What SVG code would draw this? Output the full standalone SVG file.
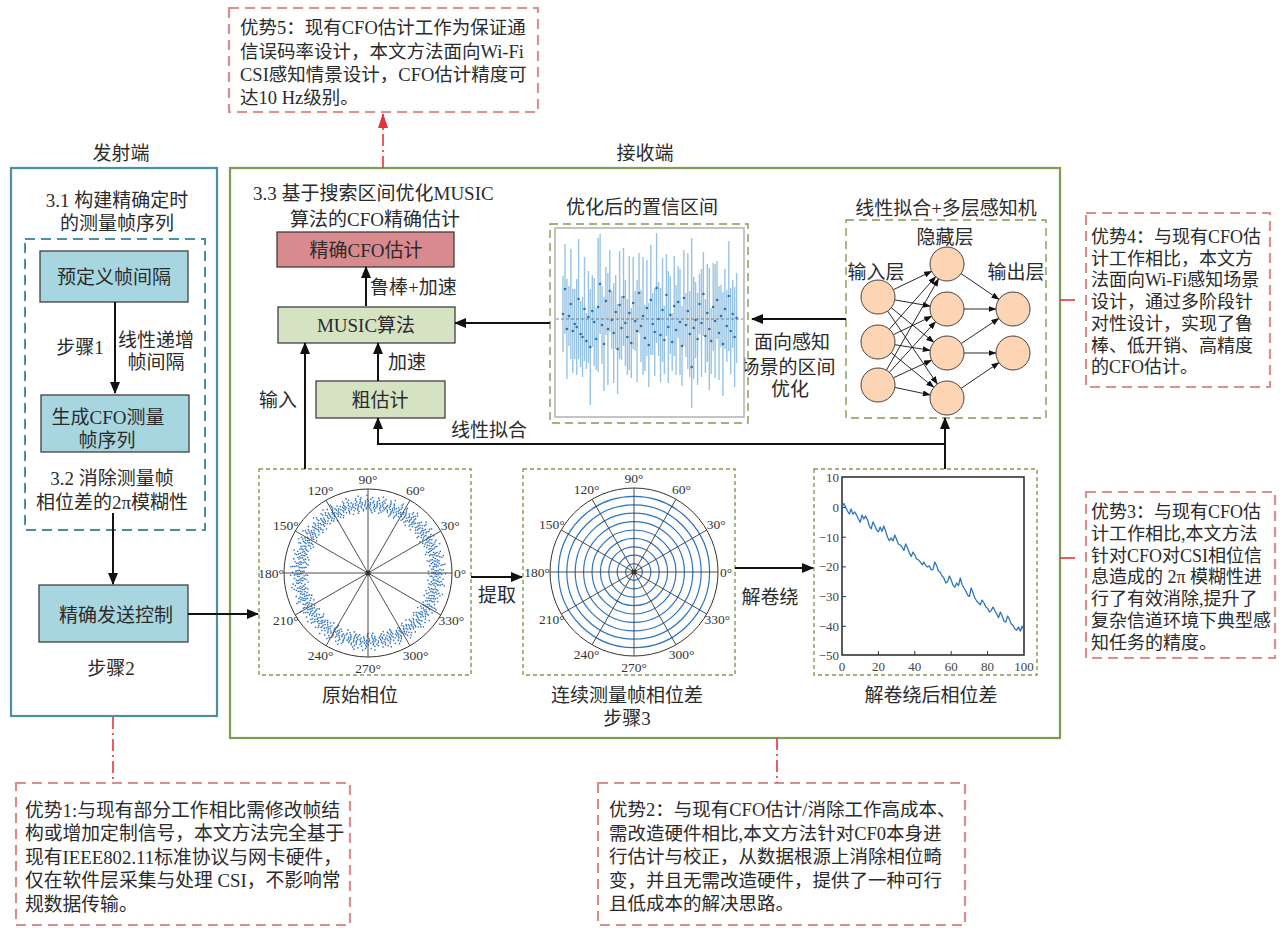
<svg xmlns="http://www.w3.org/2000/svg" width="1284" height="928" viewBox="0 0 1284 928">
<style>
text{font-family:"Liberation Serif","Noto Sans CJK SC",serif;fill:#2b2b2b}
.t19{font-size:19px}
.c{text-anchor:middle;dominant-baseline:central}
.l{dominant-baseline:central}
.a18{font-size:18px;dominant-baseline:central}
.a185{font-size:18.5px;dominant-baseline:central}
.a19{font-size:18.8px;dominant-baseline:central}
.deg{font-size:13.5px;text-anchor:middle;dominant-baseline:central;fill:#333}
.tick{font-size:13px;fill:#444;dominant-baseline:central}
.pink{fill:none;stroke:#d98f90;stroke-width:2.2;stroke-dasharray:10 6}
.red{fill:none;stroke:#e8323a;stroke-width:1.6;stroke-dasharray:12 4 2 4}
.reds{fill:none;stroke:#e8323a;stroke-width:1.6}
.blue{fill:#a7d6e0;stroke:#333;stroke-width:1.2}
.green{fill:#d5e3c3;stroke:#333;stroke-width:1.2}
.rose{fill:#d98a8e;stroke:#333;stroke-width:1.2}
.gdash{fill:none;stroke:#7f9c52;stroke-width:1.4;stroke-dasharray:4 3}
.gdash2{fill:none;stroke:#7f9c52;stroke-width:1.4;stroke-dasharray:8 5}
.conn{fill:none;stroke:#111;stroke-width:2;marker-end:url(#ah)}
.nn{fill:none;stroke:#111;stroke-width:0.9;marker-end:url(#sa)}
.node{fill:#fdd5b4;stroke:#444;stroke-width:1}
</style>
<defs>
<marker id="ah" viewBox="0 0 12 10" refX="11" refY="5" markerWidth="12" markerHeight="10" markerUnits="userSpaceOnUse" orient="auto"><path d="M0,0 L12,5 L0,10 z" fill="#111"/></marker>
<marker id="sa" viewBox="0 0 8 6" refX="7.5" refY="3" markerWidth="8" markerHeight="6" markerUnits="userSpaceOnUse" orient="auto"><path d="M0,0 L8,3 L0,6 z" fill="#111"/></marker>
<marker id="ra" viewBox="0 0 15 10" refX="14" refY="5" markerWidth="15" markerHeight="10" markerUnits="userSpaceOnUse" orient="auto"><path d="M0,0 L15,5 L0,10 z" fill="#e8323a"/></marker>
<g id="pgrid">
<circle r="84" fill="none" stroke="#333" stroke-width="1"/>
<path d="M-84 0H84M0 -84V84M72.75 -42L-72.75 42M42 -72.75L-42 72.75M-42 -72.75L42 72.75M-72.75 -42L72.75 42" stroke="#3a3a3a" stroke-width="0.9" fill="none"/>
<circle r="2.5" fill="#333"/>
</g>
</defs>
<rect width="1284" height="928" fill="#fff"/>

<!-- Transmitter -->
<g id="transmitter">
<text class="t19 c" x="121" y="153">发射端</text>
<rect x="11" y="168" width="206" height="548" fill="none" stroke="#4b8fa3" stroke-width="2.2"/>
<text class="t19 c" x="117" y="200">3.1 构建精确定时</text>
<text class="t19 c" x="117" y="223">的测量帧序列</text>
<rect x="25" y="239" width="180" height="291" fill="none" stroke="#4b8fa3" stroke-width="2" stroke-dasharray="10 6"/>
<text class="t19 c" x="80" y="347">步骤1</text>
<text class="t19 c" x="156" y="340">线性递增</text>
<text class="t19 c" x="156" y="362">帧间隔</text>
<text class="t19 c" x="112" y="478">3.2 消除测量帧</text>
<text class="t19 c" x="112" y="502">相位差的2π模糊性</text>
<text class="t19 c" x="111" y="668">步骤2</text>
</g>
<g id="node-predefine"><rect class="blue" x="40" y="251" width="148" height="51"/><text class="t19 c" x="114" y="277">预定义帧间隔</text></g>
<g id="node-generate"><rect class="blue" x="41" y="395" width="148" height="57"/><text class="t19 c" x="108" y="417">生成CFO测量</text><text class="t19 c" x="107" y="440">帧序列</text></g>
<g id="node-send"><rect class="blue" x="39" y="585" width="149" height="57"/><text class="t19 c" x="116" y="615">精确发送控制</text></g>

<!-- Receiver -->
<g id="receiver">
<text class="t19 c" x="645" y="153">接收端</text>
<rect x="230" y="168" width="830" height="570" fill="none" stroke="#7f9c52" stroke-width="2.2"/>
<text class="t19 l" x="253" y="193">3.3 基于搜索区间优化MUSIC</text>
<text class="t19 l" x="290" y="219">算法的CFO精确估计</text>
<text class="t19 l" x="370" y="287">鲁棒+加速</text>
<text class="t19 l" x="388" y="362">加速</text>
<text class="t19 c" x="278" y="400">输入</text>
<text class="t19 c" x="489" y="430">线性拟合</text>
<text class="t19 c" x="792" y="342">面向感知</text>
<text class="t19 c" x="788" y="367">场景的区间</text>
<text class="t19 c" x="790" y="389">优化</text>
<text class="t19 c" x="497" y="595">提取</text>
<text class="t19 c" x="770" y="597">解卷绕</text>
</g>
<g id="node-cfo"><rect class="rose" x="277" y="232" width="177" height="35"/><text class="t19 c" x="366" y="250">精确CFO估计</text></g>
<g id="node-music"><rect class="green" x="278" y="307" width="177" height="36"/><text class="t19 c" x="366" y="325">MUSIC算法</text></g>
<g id="node-coarse"><rect class="green" x="316" y="381" width="129" height="37"/><text class="t19 c" x="380" y="400">粗估计</text></g>

<!-- Confidence interval chart -->
<g id="node-ci">
<text class="t19 c" x="642" y="207">优化后的置信区间</text>
<rect class="gdash2" x="550" y="224" width="198" height="199"/>
<rect x="555" y="228" width="189" height="189" fill="#fff" stroke="#b0b0b0" stroke-width="1.5"/>
<path d="M563 276V352M565 244V334M566.9 279V379M568.9 286V346M570.8 249V359M572.8 289V373M574.7 289V359M576.7 279V375M578.6 239V359M580.6 301V367M582.5 297V377M584.5 257V361M586.4 313V369M588.4 271V363M590.3 289V405M592.3 275V347M594.2 278V366M596.2 308V370M598.1 238V372M600.1 234V334M602 286V364M604 297V391M605.9 267V335M607.9 273V385M609.8 250V332M611.8 291V349M613.7 283V383M615.7 275V349M617.6 304V394M619.6 251V359M621.5 296V360M623.5 248V346M625.4 280V366M627.4 299V375M629.3 256V370M631.3 308V378M633.2 257V349M635.2 291V351M637.1 280V382M639.1 253V333M641 290V362M643 257V375M644.9 305V371M646.9 260V356M648.8 303V387M650.8 245V355M652.7 293V355M654.7 288V376M656.6 233V343M658.6 282V356M660.5 288V382M662.5 258V362M664.4 306V374M666.4 254V336M668.3 271V383M670.3 276V354M672.2 313V371M674.2 256V356M676.1 285V375M678.1 266V338M680 269V375M682 306V386M683.9 250V346M685.9 293V357M687.8 253V369M689.8 291V377M691.7 238V408M693.7 277V379M695.6 282V358M697.6 293V385M699.5 274V334M701.5 269V377M703.4 252V336M705.4 299V373M707.3 264V362M709.3 268V390M711.2 308V374M713.2 263V351M715.1 264V378M717.1 261V339M719 286V380M721 285V347M722.9 292V396M724.9 269V349M726.8 290V362M728.8 241V351M730.7 288V374M732.7 280V348M734.6 287V387M736.6 273V363" stroke="#86b8de" stroke-width="1.4" opacity="0.85" fill="none"/>
<path d="M556 319H743" stroke="#666" stroke-width="0.8" stroke-dasharray="3 2"/>
<path d="M563 314h0M565 289h0M566.9 329h0M568.9 316h0M570.8 304h0M572.8 331h0M574.7 324h0M576.7 327h0M578.6 299h0M580.6 334h0M582.5 337h0M584.5 309h0M586.4 341h0M588.4 317h0M590.3 347h0M592.3 311h0M594.2 322h0M596.2 339h0M598.1 307h0M600.1 284h0M602 325h0M604 344h0M605.9 301h0M607.9 329h0M609.8 291h0M611.8 320h0M613.7 333h0M615.7 312h0M617.6 349h0M619.6 305h0M621.5 328h0M623.5 297h0M625.4 323h0M627.4 337h0M629.3 313h0M631.3 343h0M633.2 303h0M635.2 321h0M637.1 331h0M639.1 293h0M641 326h0M643 316h0M644.9 338h0M646.9 308h0M648.8 345h0M650.8 300h0M652.7 324h0M654.7 332h0M656.6 288h0M658.6 319h0M660.5 335h0M662.5 310h0M664.4 340h0M666.4 295h0M668.3 327h0M670.3 315h0M672.2 342h0M674.2 306h0M676.1 330h0M678.1 302h0M680 322h0M682 346h0M683.9 298h0M685.9 325h0M687.8 311h0M689.8 334h0M691.7 367h0M693.7 328h0M695.6 320h0M697.6 339h0M699.5 304h0M701.5 323h0M703.4 294h0M705.4 336h0M707.3 313h0M709.3 329h0M711.2 341h0M713.2 307h0M715.1 321h0M717.1 300h0M719 333h0M721 316h0M722.9 344h0M724.9 309h0M726.8 326h0M728.8 296h0M730.7 331h0M732.7 314h0M734.6 337h0M736.6 318h0" stroke="#2e6fb0" stroke-width="2.6" stroke-linecap="round" fill="none"/>
</g>

<!-- Neural network -->
<g id="node-mlp">
<text class="t19 c" x="946" y="208">线性拟合+多层感知机</text>
<rect class="gdash2" x="846" y="220" width="200" height="198"/>
<text class="t19 c" x="945" y="237">隐藏层</text>
<text class="t19 c" x="876" y="272">输入层</text>
<text class="t19 c" x="1016" y="272">输出层</text>
<path class="nn" d="M893.3 289.7L931.7 271.3"/>
<path class="nn" d="M894.7 299.9L930.3 306.1"/>
<path class="nn" d="M891.2 307.7L933.8 342.3"/>
<path class="nn" d="M887.6 311L937.4 384"/>
<path class="nn" d="M889.3 329.3L935.7 276.7"/>
<path class="nn" d="M893.3 334.7L931.7 316.3"/>
<path class="nn" d="M894.8 344.7L930.2 350.3"/>
<path class="nn" d="M891.2 352.7L933.8 387.3"/>
<path class="nn" d="M886.4 370.2L938.6 278.8"/>
<path class="nn" d="M889.4 372.4L935.6 321.6"/>
<path class="nn" d="M893.4 377.8L931.6 360.2"/>
<path class="nn" d="M894.7 387.4L930.3 394.9"/>
<path class="nn" d="M961 273.6L999 299.4"/>
<path class="nn" d="M964 309L996 309"/>
<path class="nn" d="M961.1 343.6L998.9 318.4"/>
<path class="nn" d="M964 353L996 353"/>
<path class="nn" d="M961 388.4L999 362.6"/>
<circle class="node" cx="878" cy="297" r="17"/>
<circle class="node" cx="878" cy="342" r="17"/>
<circle class="node" cx="878" cy="385" r="17"/>
<circle class="node" cx="947" cy="264" r="17"/>
<circle class="node" cx="947" cy="309" r="17"/>
<circle class="node" cx="947" cy="353" r="17"/>
<circle class="node" cx="947" cy="398" r="17"/>
<circle class="node" cx="1013" cy="309" r="17"/>
<circle class="node" cx="1013" cy="353" r="17"/>
</g>

<!-- Polar plot 1: raw phase -->
<g id="node-rawphase">
<rect class="gdash" x="259" y="469" width="212" height="206"/>
<g transform="translate(368,573)">
<g fill="none" stroke="#2f72bd" stroke-width="1.5">
<circle r="60.5" stroke-dasharray="1.4 5.3 1.4 9.1 1.4 3.7 1.4 12.3"/>
<circle r="62.3" stroke-dasharray="1.4 3.1 1.4 6.4 1.4 2.2 1.4 4.9 1.4 8.1" stroke-dashoffset="2"/>
<circle r="64" stroke-dasharray="1.4 2.3 1.4 4.1 1.4 1.6 1.4 3.3" stroke-dashoffset="1"/>
<circle r="65.6" stroke-dasharray="1.4 1.5 1.4 2.9 1.4 0.9 1.4 2.2 1.4 3.7" stroke-dashoffset="3"/>
<circle r="67.2" stroke-dasharray="1.4 1.1 1.4 2.4 1.4 1.7 1.4 0.8 1.4 3.1"/>
<circle r="68.8" stroke-dasharray="1.4 1.9 1.4 0.9 1.4 2.6 1.4 1.4" stroke-dashoffset="2.5"/>
<circle r="70.4" stroke-dasharray="1.4 1.3 1.4 2.8 1.4 1.0 1.4 2.1 1.4 3.4" stroke-dashoffset="1.5"/>
<circle r="72" stroke-dasharray="1.4 2.2 1.4 3.6 1.4 1.4 1.4 4.4"/>
<circle r="73.7" stroke-dasharray="1.4 3.4 1.4 5.8 1.4 2.1 1.4 7.2" stroke-dashoffset="4"/>
<circle r="75.5" stroke-dasharray="1.4 6.1 1.4 3.8 1.4 10.5 1.4 4.6" stroke-dashoffset="2"/>
<circle r="77.4" stroke-dasharray="1.4 11 1.4 7.3 1.4 15.4"/>
</g>
<use href="#pgrid"/>
<text class="deg" x="92" y="0">0°</text>
<text class="deg" x="82.3" y="-47.5">30°</text>
<text class="deg" x="47.5" y="-82.3">60°</text>
<text class="deg" x="0" y="-94">90°</text>
<text class="deg" x="-47.5" y="-82.3">120°</text>
<text class="deg" x="-82.3" y="-47.5">150°</text>
<text class="deg" x="-97" y="0">180°</text>
<text class="deg" x="-82.3" y="47.5">210°</text>
<text class="deg" x="-47.5" y="82.3">240°</text>
<text class="deg" x="0" y="95">270°</text>
<text class="deg" x="47.5" y="82.3">300°</text>
<text class="deg" x="83.3" y="47.5">330°</text>
</g>
<text class="t19 c" x="360" y="695">原始相位</text>
</g>

<!-- Polar plot 2: phase difference -->
<g id="node-phasediff">
<rect class="gdash" x="523" y="469" width="212" height="206"/>
<g transform="translate(634,572)">
<g fill="none" stroke="#2e75c0" stroke-width="1.2">
<circle r="8.4"/><circle r="16.8"/><circle r="25.2"/><circle r="33.6"/><circle r="42"/><circle r="50.4"/><circle r="58.8"/><circle r="67.2"/><circle r="75.6"/>
</g>
<use href="#pgrid"/>
<text class="deg" x="92" y="0">0°</text>
<text class="deg" x="82.3" y="-47.5">30°</text>
<text class="deg" x="47.5" y="-82.3">60°</text>
<text class="deg" x="0" y="-94">90°</text>
<text class="deg" x="-47.5" y="-82.3">120°</text>
<text class="deg" x="-82.3" y="-47.5">150°</text>
<text class="deg" x="-97" y="0">180°</text>
<text class="deg" x="-82.3" y="47.5">210°</text>
<text class="deg" x="-47.5" y="82.3">240°</text>
<text class="deg" x="0" y="95">270°</text>
<text class="deg" x="47.5" y="82.3">300°</text>
<text class="deg" x="83.3" y="47.5">330°</text>
</g>
<text class="t19 c" x="627" y="695">连续测量帧相位差</text>
<text class="t19 c" x="627" y="718">步骤3</text>
</g>

<!-- Unwrapped phase chart -->
<g id="node-unwrapped">
<rect class="gdash" x="814" y="469" width="223" height="206"/>
<rect x="842" y="477" width="182" height="178" fill="#fff" stroke="#333" stroke-width="1.6"/>
<path d="M842 507.5h4M842 537.2h4M842 566.9h4M842 596.6h4M842 626.3h4M878.4 655v-4M914.8 655v-4M951.2 655v-4M987.6 655v-4" stroke="#333" stroke-width="1"/>
<g text-anchor="end">
<text class="tick" x="839" y="477">10</text>
<text class="tick" x="839" y="507.5">0</text>
<text class="tick" x="839" y="537.2">−10</text>
<text class="tick" x="839" y="566.9">−20</text>
<text class="tick" x="839" y="596.6">−30</text>
<text class="tick" x="839" y="626.3">−40</text>
<text class="tick" x="839" y="655">−50</text>
</g>
<g text-anchor="middle">
<text class="tick" x="842" y="666">0</text>
<text class="tick" x="878.4" y="666">20</text>
<text class="tick" x="914.8" y="666">40</text>
<text class="tick" x="951.2" y="666">60</text>
<text class="tick" x="987.6" y="666">80</text>
<text class="tick" x="1024" y="666">100</text>
</g>
<path d="M842 507.5L843.8 503.5 845.6 507 847.4 511 849.3 514 851.1 509 852.9 514.1 854.8 512 856.6 515.1 858.4 519 860.2 522.4 862 515 863.8 518.9 865.6 516 867.5 519.6 869.3 526 871.1 528.9 873 522 874.8 525.5 876.6 530 878.4 531.9 880.2 527 882 531.4 883.8 526 885.7 531.5 887.5 537 889.3 540.8 891.1 538 893 540.9 894.8 535 896.6 539.6 898.4 544 900.2 545 902 547 903.9 550.5 905.7 544 907.5 547.7 909.4 553 911.2 556.4 913 552 914.8 555 916.6 559 918.4 559.9 920.3 562 922.1 564.8 923.9 562 925.7 565.5 927.5 567 929.4 565.9 931.2 570 933 569.3 934.8 562 936.6 565.5 938.5 571 940.3 572.5 942.1 576 943.9 578 945.8 583 947.6 581.6 949.4 576 951.2 580 953 585 954.8 587.2 956.7 583 958.5 585.6 960.3 578 962.1 584.5 964 588 965.8 590.8 967.6 595 969.4 596.6 971.2 588 973 592.9 974.9 598 976.7 601 978.5 603 980.3 604.7 982.1 600 984 603 985.8 607 987.6 608.2 989.4 612 991.2 610.4 993.1 607 994.9 610.8 996.7 614 998.5 617.7 1000.4 612 1002.2 616.1 1004 621 1005.8 622.1 1007.6 616 1009.4 619.3 1011.3 624 1013.1 625.4 1014.9 629 1016.7 630.2 1018.6 627 1020.4 631.2 1022.2 626 1024 630.5" fill="none" stroke="#2e75c0" stroke-width="1.3" stroke-linejoin="round"/>
<text class="t19 c" x="931" y="695">解卷绕后相位差</text>
</g>

<!-- Advantage boxes -->
<g id="adv5">
<rect class="pink" x="229" y="8" width="309" height="104"/>
<text class="a185" x="240" y="28">优势5：现有CFO估计工作为保证通</text>
<text class="a185" x="240" y="51.5">信误码率设计，本文方法面向Wi-Fi</text>
<text class="a185" x="240" y="75">CSI感知情景设计，CFO估计精度可</text>
<text class="a185" x="240" y="98">达10 Hz级别。</text>
</g>
<g id="adv4">
<rect class="pink" x="1086" y="213" width="184" height="174"/>
<text class="a18" x="1091" y="237">优势4：与现有CFO估</text>
<text class="a18" x="1091" y="258.7">计工作相比，本文方</text>
<text class="a18" x="1091" y="280.4">法面向Wi-Fi感知场景</text>
<text class="a18" x="1091" y="302.1">设计，通过多阶段针</text>
<text class="a18" x="1091" y="323.8">对性设计，实现了鲁</text>
<text class="a18" x="1091" y="345.5">棒、低开销、高精度</text>
<text class="a18" x="1091" y="367.2">的CFO估计。</text>
</g>
<g id="adv3">
<rect class="pink" x="1086" y="492" width="189" height="166"/>
<text class="a18" x="1091" y="512">优势3：与现有CFO估</text>
<text class="a18" x="1091" y="533.8">计工作相比,本文方法</text>
<text class="a18" x="1091" y="555.6">针对CFO对CSI相位信</text>
<text class="a18" x="1091" y="577.4">息造成的 2π 模糊性进</text>
<text class="a18" x="1091" y="599.2">行了有效消除,提升了</text>
<text class="a18" x="1091" y="621">复杂信道环境下典型感</text>
<text class="a18" x="1091" y="642.8">知任务的精度。</text>
</g>
<g id="adv1">
<rect class="pink" x="16" y="783" width="334" height="142"/>
<text class="a19" x="25" y="810">优势1:与现有部分工作相比需修改帧结</text>
<text class="a19" x="25" y="833.5">构或增加定制信号，本文方法完全基于</text>
<text class="a19" x="25" y="857">现有IEEE802.11标准协议与网卡硬件，</text>
<text class="a19" x="25" y="880.5">仅在软件层采集与处理 CSI，不影响常</text>
<text class="a19" x="25" y="904">规数据传输。</text>
</g>
<g id="adv2">
<rect class="pink" x="598" y="783" width="367" height="142"/>
<text class="a19" x="609" y="810" style="font-size:18.5px">优势2：与现有CFO估计/消除工作高成本、</text>
<text class="a19" x="609" y="833.5" style="font-size:18.5px">需改造硬件相比,本文方法针对CF0本身进</text>
<text class="a19" x="609" y="857" style="font-size:18.5px">行估计与校正，从数据根源上消除相位畸</text>
<text class="a19" x="609" y="880.5" style="font-size:18.5px">变，并且无需改造硬件，提供了一种可行</text>
<text class="a19" x="609" y="904" style="font-size:18.5px">且低成本的解决思路。</text>
</g>

<!-- Connectors -->
<g id="connectors">
<path class="conn" d="M115 302V393"/>
<path class="conn" d="M113 513V584"/>
<path class="conn" d="M188 614H258"/>
<path class="conn" d="M305 469V343"/>
<path class="conn" d="M378 381V343"/>
<path class="conn" d="M366 306V267"/>
<path class="conn" d="M945 444H378V418"/>
<path class="conn" d="M945 469V418"/>
<path class="conn" d="M846 319H752"/>
<path class="conn" d="M550 323H455"/>
<path class="conn" d="M471 577H522"/>
<path class="conn" d="M735 568H813"/>
<path class="red" d="M383 168V114" marker-end="url(#ra)"/>
<path class="red" d="M113 717V783"/>
<path class="red" d="M777 738V783"/>
<path class="reds" d="M1060 300H1075"/>
<path class="reds" d="M1060 558H1075"/>
</g>
</svg>
